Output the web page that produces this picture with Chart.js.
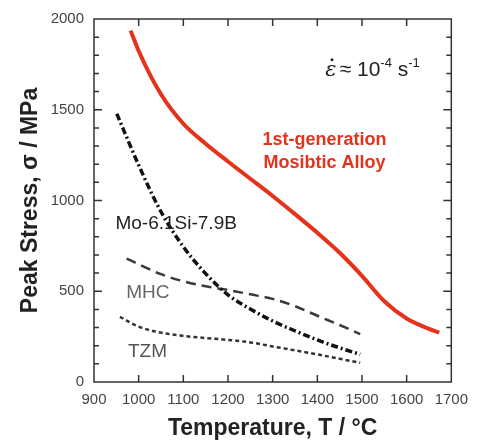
<!DOCTYPE html>
<html>
<head>
<meta charset="utf-8">
<script src="https://cdn.jsdelivr.net/npm/chart.js@4"></script>
<style>
  html, body { margin: 0; padding: 0; background: #fff; }
  #wrap { width: 477px; height: 445px; }
</style>
</head>
<body>
<div id="wrap"><canvas id="chart"></canvas></div>
<script>
// values (temperature in °C, peak stress in MPa)
const mosibTemp   = [982, 1000, 1050, 1100, 1150, 1200, 1250, 1300, 1350, 1400, 1450, 1500, 1550, 1600, 1650, 1673];
const mosibStress = [1936, 1824, 1585, 1423, 1313, 1215, 1120, 1025, 925, 822, 712, 585, 445, 350, 293, 272];

const moSiBTemp   = [951, 1000, 1050, 1100, 1150, 1200, 1250, 1300, 1350, 1400, 1450, 1496];
const moSiBStress = [1478, 1195, 938, 745, 597, 480, 402, 336, 282, 232, 188, 152];

const mhcTemp   = [973, 1050, 1100, 1150, 1200, 1250, 1300, 1350, 1400, 1450, 1496];
const mhcStress = [680, 594, 555, 527, 507, 483, 458, 418, 365, 314, 264];

const tzmTemp   = [958, 1000, 1050, 1100, 1150, 1200, 1250, 1300, 1350, 1400, 1450, 1496];
const tzmStress = [359, 305, 272, 254, 242, 232, 218, 196, 174, 152, 128, 106];

const xTicks = [900, 1000, 1100, 1200, 1300, 1400, 1500, 1600, 1700];
const yTicks = [0, 500, 1000, 1500, 2000];

const pts = (xs, ys) => xs.map((x, i) => ({ x: x, y: ys[i] }));

// frame with inward ticks, like the original plot
const framePlugin = {
  id: 'frame',
  afterDraw(chart) {
    const { ctx, chartArea: a, scales: { x, y } } = chart;
    ctx.save();
    ctx.strokeStyle = '#333';
    ctx.lineWidth = 1.5;
    ctx.strokeRect(a.left, a.top, a.right - a.left, a.bottom - a.top);
    ctx.beginPath();
    for (let v = 100; v < 2000; v += 100) {
      const py = y.getPixelForValue(v);
      const len = v % 500 === 0 ? 8 : 5;
      ctx.moveTo(a.left, py); ctx.lineTo(a.left + len, py);
      ctx.moveTo(a.right, py); ctx.lineTo(a.right - len, py);
    }
    for (let v = 1000; v < 1700; v += 100) {
      const px = x.getPixelForValue(v);
      ctx.moveTo(px, a.bottom); ctx.lineTo(px, a.bottom - 7);
      ctx.moveTo(px, a.top); ctx.lineTo(px, a.top + 7);
    }
    ctx.stroke();
    ctx.restore();
  }
};

// curve names and the strain-rate note, placed in data coordinates
const labelPlugin = {
  id: 'labels',
  afterDatasetsDraw(chart) {
    const { ctx, scales: { x, y } } = chart;
    const put = (text, t, s, font, color, align) => {
      ctx.font = font;
      ctx.fillStyle = color;
      ctx.textAlign = align || 'left';
      ctx.textBaseline = 'alphabetic';
      ctx.fillText(text, x.getPixelForValue(t), y.getPixelForValue(s));
    };
    ctx.save();
    put('Mo-6.1Si-7.9B', 948, 841, '19px Arial, "Liberation Sans"', '#222');
    put('MHC', 972, 462, '19px Arial, "Liberation Sans"', '#666');
    put('TZM', 976, 137, '19px Arial, "Liberation Sans"', '#555');
    put('1st-generation', 1416, 1308, 'bold 18px Arial, "Liberation Sans"', '#e4321b', 'center');
    put('Mosibtic Alloy', 1416, 1181, 'bold 18px Arial, "Liberation Sans"', '#e4321b', 'center');

    // strain rate: ε̇ ≈ 10^-4 s^-1
    let px = x.getPixelForValue(1418);
    const py = y.getPixelForValue(1687);
    ctx.textAlign = 'left';
    ctx.fillStyle = '#222';
    ctx.font = 'italic 21px "DejaVu Serif", serif';
    ctx.fillText('\u03b5', px, py);
    const ew = ctx.measureText('\u03b5').width;
    ctx.beginPath();
    ctx.arc(px + ew / 2 + 1, py - 16, 1.5, 0, Math.PI * 2);
    ctx.fill();
    px += ew + 3;
    ctx.font = '21px Arial, "Liberation Sans"';
    ctx.fillText('\u2248 10', px, py);
    px += ctx.measureText('\u2248 10').width;
    ctx.font = '13px Arial, "Liberation Sans"';
    ctx.fillText('-4', px, py - 9);
    px += ctx.measureText('-4').width;
    ctx.font = '21px Arial, "Liberation Sans"';
    ctx.fillText(' s', px, py);
    px += ctx.measureText(' s').width;
    ctx.font = '13px Arial, "Liberation Sans"';
    ctx.fillText('-1', px, py - 9);
    ctx.restore();
  }
};

new Chart(document.getElementById('chart'), {
  type: 'line',
  data: {
    datasets: [
      {
        label: '1st-generation Mosibtic Alloy',
        data: pts(mosibTemp, mosibStress),
        borderColor: '#e4321b',
        borderWidth: 4,
        cubicInterpolationMode: 'monotone'
      },
      {
        label: 'Mo-6.1Si-7.9B',
        data: pts(moSiBTemp, moSiBStress),
        borderColor: '#111',
        borderWidth: 3.5,
        borderDash: [7, 3, 2, 3],
        cubicInterpolationMode: 'monotone'
      },
      {
        label: 'MHC',
        data: pts(mhcTemp, mhcStress),
        borderColor: '#3a3a3a',
        borderWidth: 2.5,
        borderDash: [10, 6],
        cubicInterpolationMode: 'monotone'
      },
      {
        label: 'TZM',
        data: pts(tzmTemp, tzmStress),
        borderColor: '#333',
        borderWidth: 2.5,
        borderDash: [4, 3],
        cubicInterpolationMode: 'monotone'
      }
    ]
  },
  options: {
    responsive: true,
    maintainAspectRatio: false,
    animation: false,
    layout: { padding: { top: 18, right: 18, left: 0, bottom: 0 } },
    elements: { point: { radius: 0 } },
    plugins: { legend: { display: false }, tooltip: { enabled: false } },
    scales: {
      x: {
        type: 'linear',
        min: 900,
        max: 1700,
        afterBuildTicks: (s) => { s.ticks = xTicks.map(v => ({ value: v })); },
        afterFit: (s) => { s.height = 63; },
        grid: { display: false, drawTicks: false },
        border: { display: false },
        ticks: {
          padding: 9, color: '#444',
          font: { size: 15, family: 'Arial, "Liberation Sans"' },
          callback: (v) => String(v)
        },
        title: {
          display: true,
          text: 'Temperature, T / \u00b0C',
          color: '#222',
          padding: { top: 0, bottom: 3 },
          font: { size: 23, weight: 'bold', family: 'Arial, "Liberation Sans"' }
        }
      },
      y: {
        min: 0,
        max: 2000,
        afterBuildTicks: (s) => { s.ticks = yTicks.map(v => ({ value: v })); },
        afterFit: (s) => { s.width = 94; },
        grid: { display: false, drawTicks: false },
        border: { display: false },
        ticks: {
          padding: 10, color: '#444',
          font: { size: 15, family: 'Arial, "Liberation Sans"' },
          callback: (v) => String(v)
        },
        title: {
          display: true,
          text: 'Peak Stress, \u03c3 / MPa',
          color: '#222',
          padding: { top: 17, bottom: 0 },
          font: { size: 23, weight: 'bold', family: 'Arial, "Liberation Sans"' }
        }
      }
    }
  },
  plugins: [framePlugin, labelPlugin]
});
</script>
</body>
</html>
